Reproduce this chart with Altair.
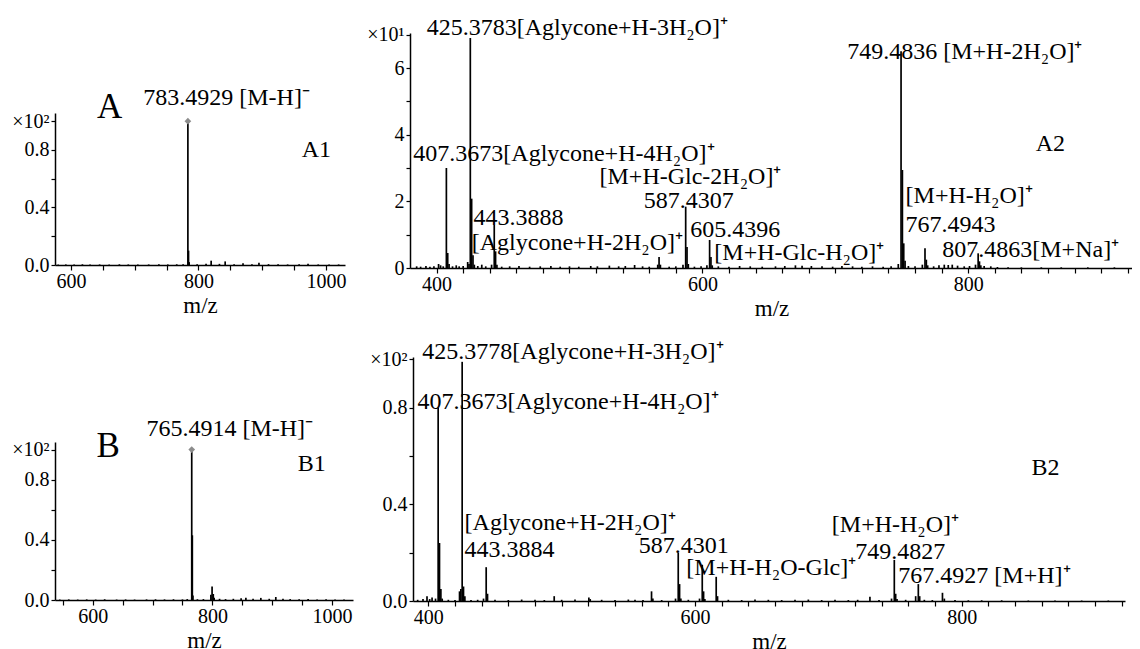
import altair as alt
import pandas as pd

FONT = "Liberation Serif"
W, H = 1124, 641          # whole drawing area (page minus 8px margin)
M = 8                     # page margin

# ---------------- A1 : negative mode, ×10² ----------------
a1_mz = [580, 592, 605, 618, 630, 645, 660, 676, 690, 705, 722, 738, 752, 766, 776,
         783.49, 784.5, 785.5, 798, 812, 820, 833, 842, 856, 870, 884, 895, 910,
         925, 940, 958, 972, 988, 1005, 1020]
a1_int = [0.003, 0.004, 0.003, 0.005, 0.003, 0.004, 0.003, 0.005, 0.004, 0.003, 0.004,
          0.005, 0.004, 0.005, 0.006,
          1.0, 0.10, 0.02, 0.006, 0.008, 0.03, 0.008, 0.025, 0.006, 0.012, 0.006, 0.015,
          0.006, 0.005, 0.004, 0.006, 0.008, 0.004, 0.003, 0.004]
a1_top = [783.49]
a1_top_int = [1.0]
a1_big_x, a1_big_y, a1_big_t = [640.9], [1.023], ["A"]
a1_ann_x = [713.5, 962]
a1_ann_y = [1.113, 0.753]
a1_ann_t = ["783.4929 [M-H]⁻", "A1"]

# ---------------- A2 : positive mode, ×10¹ ----------------
a2_mz = [385, 388, 392, 395, 398, 401.5, 403, 405, 407.37, 408.37, 409.4, 412, 414.8, 417,
         420, 423.4, 424.4, 425.38, 426.38, 427.4, 428.4, 431, 434, 437, 441.4, 443.39,
         444.39, 445.4, 449, 455, 462, 470, 478, 486, 493, 500, 507, 516, 521, 530, 537,
         542, 549, 555, 560, 566.4, 567.4, 568.4, 575, 580, 585.4, 587.43, 588.43, 589.4,
         594, 599, 603.4, 605.44, 606.44, 607.4, 612, 620, 628, 636, 645, 655, 662, 670,
         675, 682, 690, 698, 705, 713, 720, 728, 736, 742, 747.4, 749.48, 750.49, 751.49,
         752.5, 755, 760, 765.5, 767.49, 768.5, 769.5, 774, 778, 782, 785, 788, 792, 797,
         801, 805.5, 807.49, 808.49, 809.5, 812, 817, 822, 830, 840, 855, 870, 890, 910]
a2_int = [0.05, 0.04, 0.06, 0.04, 0.05, 0.12, 0.08, 0.05, 3.0, 0.45, 0.12, 0.05, 0.08, 0.05,
          0.06, 0.18, 0.12, 6.9, 2.08, 0.38, 0.1, 0.06, 0.1, 0.05, 0.1, 1.29,
          0.5, 0.1, 0.04, 0.05, 0.06, 0.04, 0.05, 0.06, 0.04, 0.05, 0.04, 0.06, 0.05, 0.07, 0.05,
          0.06, 0.09, 0.05, 0.04, 0.1, 0.33, 0.1, 0.04, 0.05, 0.1, 1.84, 0.63, 0.12,
          0.04, 0.05, 0.08, 0.84, 0.33, 0.08, 0.05, 0.04, 0.06, 0.05, 0.04, 0.05, 0.06, 0.08,
          0.07, 0.06, 0.05, 0.04, 0.06, 0.05, 0.04, 0.05, 0.04, 0.05, 0.12, 6.5, 2.94, 0.74,
          0.22, 0.06, 0.05, 0.1, 0.59, 0.25, 0.08, 0.05, 0.08, 0.1, 0.09, 0.1, 0.07, 0.05,
          0.06, 0.1, 0.44, 0.2, 0.08, 0.06, 0.05, 0.03, 0.02, 0.02, 0.02, 0.02, 0.02, 0.02]
a2_ann_x = [392.6, 382.5, 427.7, 426.5, 522.6, 555.8, 590.9, 609.0, 709.0, 850.8, 752.9, 752.9, 780.5]
a2_ann_y = [6.99, 3.22, 1.29, 0.54, 2.52, 1.79, 0.94, 0.24, 6.26, 3.52, 1.96, 1.09, 0.34]
a2_ann_t = ["425.3783[Aglycone+H-3H₂O]⁺", "407.3673[Aglycone+H-4H₂O]⁺", "443.3888",
            "[Aglycone+H-2H₂O]⁺", "[M+H-Glc-2H₂O]⁺", "587.4307", "605.4396",
            "[M+H-Glc-H₂O]⁺", "749.4836 [M+H-2H₂O]⁺", "A2", "[M+H-H₂O]⁺", "767.4943",
            "807.4863[M+Na]⁺"]

# ---------------- B1 : negative mode, ×10² ----------------
b1_mz = [545, 560, 575, 590, 605, 620, 640, 655, 670, 690, 705, 720, 735, 750, 758,
         765.49, 766.49, 767.5, 775, 785, 797.5, 799.5, 801.5, 803, 812, 822, 835, 848,
         856, 868, 881, 895, 906, 918, 930, 945, 960, 975, 990, 1005, 1020]
b1_int = [0.003, 0.004, 0.003, 0.004, 0.003, 0.005, 0.003, 0.004, 0.003, 0.004, 0.005, 0.004,
          0.005, 0.004, 0.006,
          1.0, 0.43, 0.03, 0.005, 0.006, 0.035, 0.09, 0.04, 0.015, 0.008, 0.006, 0.008, 0.012,
          0.015, 0.008, 0.014, 0.008, 0.02, 0.008, 0.006, 0.005, 0.006, 0.004, 0.005, 0.003, 0.004]
b1_top = [765.49]
b1_top_int = [1.0]
b1_big_x, b1_big_y, b1_big_t = [606.5], [0.951], ["B"]
b1_ann_x = [689.8, 942.5]
b1_ann_y = [1.089, 0.855]
b1_ann_t = ["765.4914 [M-H]⁻", "B1"]

# ---------------- B2 : positive mode, ×10² ----------------
b2_mz = [392, 396, 399, 401, 402.8, 405.4, 407.37, 408.37, 409.4, 410.4, 415, 420, 423.4,
         424.4, 425.38, 426.38, 427.4, 432, 437, 441.4, 443.39, 444.39, 450, 460, 470, 480,
         487, 494.4, 500, 510, 520.4, 521.4, 530, 540, 550, 555, 561, 567.4, 568.4, 575,
         585.4, 587.43, 588.43, 589.4, 595, 603.4, 605.44, 606.44, 607.4, 615.9, 616.9, 625,
         635, 645, 655, 665, 675, 685, 695, 705, 715, 722, 731.2, 738, 747.4, 749.48, 750.49,
         751.5, 758, 765.5, 767.49, 768.5, 772, 778, 785.6, 787, 795, 805, 815, 830, 850,
         870, 890, 910]
b2_int = [0.005, 0.008, 0.02, 0.008, 0.015, 0.01, 0.80, 0.24, 0.05, 0.01, 0.005, 0.004, 0.04,
          0.05, 0.99, 0.06, 0.02, 0.004, 0.005, 0.01, 0.14, 0.03, 0.005, 0.004, 0.006, 0.005,
          0.004, 0.02, 0.005, 0.006, 0.015, 0.008, 0.005, 0.004, 0.006, 0.005, 0.004, 0.04, 0.01, 0.004,
          0.01, 0.20, 0.07, 0.01, 0.005, 0.01, 0.15, 0.04, 0.008, 0.10, 0.02, 0.005,
          0.004, 0.006, 0.005, 0.004, 0.005, 0.006, 0.004, 0.005, 0.004, 0.005, 0.018, 0.004, 0.01, 0.17, 0.03,
          0.008, 0.005, 0.02, 0.07, 0.02, 0.005, 0.004, 0.034, 0.01, 0.004, 0.003, 0.003, 0.003, 0.002,
          0.002, 0.002, 0.002]
b2_ann_x = [395.5, 391.8, 427.2, 427.2, 557.8, 593.5, 702.6, 720.1, 752.5, 852.4]
b2_ann_y = [1.003, 0.796, 0.293, 0.183, 0.197, 0.108, 0.285, 0.172, 0.073, 0.52]
b2_ann_t = ["425.3778[Aglycone+H-3H₂O]⁺", "407.3673[Aglycone+H-4H₂O]⁺",
            "[Aglycone+H-2H₂O]⁺", "443.3884", "587.4301", "[M+H-H₂O-Glc]⁺",
            "[M+H-H₂O]⁺", "749.4827", "767.4927 [M+H]⁺", "B2"]


def ylab_expr(labeled, top, top_text, fmt):
    cond = " || ".join(f"datum.value == {v}" for v in labeled)
    return (f"datum.value == {top} ? '{top_text}' : "
            f"(({cond}) ? format(datum.value, '{fmt}') : '')")


def panel(mz, inten, xdom, xpix, ydom, ypix, xvals, xstep, yvals, ylabeled, ytop, ytext, yfmt,
          ann_x, ann_y, ann_t, big=None, top=None):
    xs = alt.Scale(domain=xdom, range=[xpix[0] - M, xpix[1] - M], nice=False, zero=False)
    ys = alt.Scale(domain=ydom, range=[ypix[0] - M, ypix[1] - M], nice=False, zero=False)
    xaxis = alt.Axis(
        orient="bottom", offset=(ypix[0] - M) - H, values=xvals,
        labelExpr=f"datum.value % {xstep} == 0 ? datum.value : ''",
        title="m/z", titleFont=FONT, titleFontSize=23, titleFontWeight="normal",
        titleColor="black", titlePadding=3,
        labelFont=FONT, labelFontSize=20, labelColor="black", labelPadding=1,
        labelFlush=False, labelOverlap=False,
        domainColor="black", domainWidth=1.5, tickColor="black", tickWidth=1.2, tickSize=5,
        grid=False)
    yaxis = alt.Axis(
        orient="left", offset=-(xpix[0] - M), values=yvals,
        labelExpr=ylab_expr(ylabeled, ytop, ytext, yfmt),
        title="", labelFont=FONT, labelFontSize=20, labelColor="black", labelPadding=2,
        labelFlush=False, labelOverlap=False,
        domainColor="black", domainWidth=1.5, tickColor="black", tickWidth=1.2, tickSize=4,
        grid=False)

    df = pd.DataFrame({"mz": mz, "i": inten})
    peaks = alt.Chart(df).mark_rule(color="black", strokeWidth=1.7).encode(
        x=alt.X("mz:Q", scale=xs, axis=xaxis),
        y=alt.Y("i:Q", scale=ys, axis=yaxis),
        y2=alt.datum(0),
    )
    layers = [peaks]

    adf = pd.DataFrame({"mz": ann_x, "i": ann_y, "t": ann_t})
    layers.append(
        alt.Chart(adf).mark_text(font=FONT, fontSize=24, align="left", baseline="alphabetic",
                                 color="black").encode(
            x=alt.X("mz:Q", scale=xs),
            y=alt.Y("i:Q", scale=ys),
            text="t:N"))
    if big is not None:
        bdf = pd.DataFrame({"mz": big[0], "i": big[1], "t": big[2]})
        layers.append(
            alt.Chart(bdf).mark_text(font=FONT, fontSize=35, align="left", baseline="alphabetic",
                                     color="black").encode(
                x=alt.X("mz:Q", scale=xs),
                y=alt.Y("i:Q", scale=ys),
                text="t:N"))
    if top is not None:
        tdf = pd.DataFrame({"mz": top[0], "i": top[1]})
        layers.append(
            alt.Chart(tdf).mark_point(shape="diamond", filled=True, color="#8c8c8c",
                                      size=45, opacity=1).encode(
                x=alt.X("mz:Q", scale=xs),
                y=alt.Y("i:Q", scale=ys)))
    return alt.layer(*layers)


pA1 = panel(a1_mz, a1_int, [575, 1030], [55, 345], [0, 1.057], [265, 113],
            list(range(600, 1001, 50)), 200, [0, 0.2, 0.4, 0.6, 0.8, 1.0],
            [0, 0.4, 0.8], 1.0, "×10²", ".1f",
            a1_ann_x, a1_ann_y, a1_ann_t,
            big=(a1_big_x, a1_big_y, a1_big_t), top=(a1_top, a1_top_int))

pA2 = panel(a2_mz, a2_int, [380, 924], [410, 1133], [0, 7.05], [268, 33],
            list(range(400, 921, 20)), 200, [0, 1, 2, 3, 4, 5, 6, 7],
            [0, 2, 4, 6], 7, "×10¹", "d",
            a2_ann_x, a2_ann_y, a2_ann_t)

pB1 = panel(b1_mz, b1_int, [537, 1035], [55, 353], [0, 1.05], [600, 442],
            list(range(550, 1001, 50)), 200, [0, 0.2, 0.4, 0.6, 0.8, 1.0],
            [0, 0.4, 0.8], 1.0, "×10²", ".1f",
            b1_ann_x, b1_ann_y, b1_ann_t,
            big=(b1_big_x, b1_big_y, b1_big_t), top=(b1_top, b1_top_int))

pB2 = panel(b2_mz, b2_int, [388.5, 922.5], [413, 1125], [0, 1.01], [601, 357],
            list(range(400, 921, 20)), 200, [0, 0.2, 0.4, 0.6, 0.8, 1.0],
            [0, 0.4, 0.8], 1.0, "×10²", ".1f",
            b2_ann_x, b2_ann_y, b2_ann_t)

chart = alt.layer(pA1, pA2, pB1, pB2).resolve_scale(
    x="independent", y="independent"
).properties(
    width=W, height=H, padding=0,
    autosize=alt.AutoSizeParams(type="none"),
    background="white",
).configure_view(stroke=None)

chart.save("out.html", embed_options={"renderer": "svg", "actions": False})
